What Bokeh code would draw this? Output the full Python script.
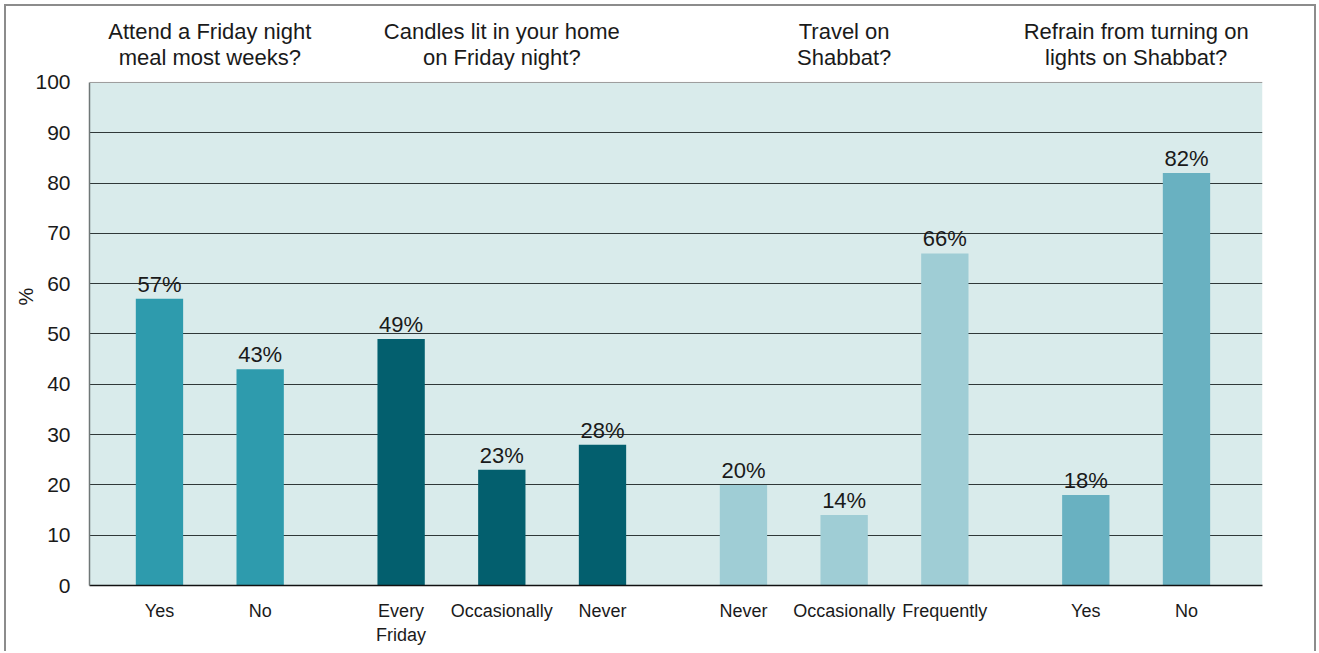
from bokeh.plotting import figure
from bokeh.models import Range1d, FixedTicker, Span, ColumnDataSource, BoxAnnotation
from bokeh.core.properties import value
from bokeh.embed import file_html
from bokeh.resources import INLINE

# ---- data ----
meal_title = ["Attend a Friday night", "meal most weeks?"]
meal_cats = ["Yes", "No"]
meal_vals = [57, 43]

candles_title = ["Candles lit in your home", "on Friday night?"]
candles_cats = ["Every\nFriday", "Occasionally", "Never"]
candles_vals = [49, 23, 28]

travel_title = ["Travel on", "Shabbat?"]
travel_cats = ["Never", "Occasionally", "Frequently"]
travel_vals = [20, 14, 66]

lights_title = ["Refrain from turning on", "lights on Shabbat?"]
lights_cats = ["Yes", "No"]
lights_vals = [18, 82]

y_ticks = [0, 10, 20, 30, 40, 50, 60, 70, 80, 90, 100]

# ---- styles ----
FONT = "Liberation Sans"
TXT = "#1a1a1a"
colors = ["#2e9bad", "#035f6e", "#9fcdd5", "#69b1c1"]
groups = [
    (meal_title, meal_cats, meal_vals),
    (candles_title, candles_cats, candles_vals),
    (travel_title, travel_cats, travel_vals),
    (lights_title, lights_cats, lights_vals),
]

STEP = 100      # spacing between bars inside a group
GAP = 40        # extra gap between groups
BAR_W = 47

xs, tops, cols, labels, overrides, centers = [], [], [], [], {}, []
pos = 0
for gi, (title, cats, vals) in enumerate(groups):
    gx = []
    for c, v in zip(cats, vals):
        xs.append(pos)
        tops.append(v)
        cols.append(colors[gi])
        labels.append(f"{v}%")
        overrides[pos] = c
        gx.append(pos)
        pos += STEP
    centers.append((gx[0] + gx[-1]) / 2)
    pos += GAP

src = ColumnDataSource(dict(x=xs, top=tops, color=cols, label=labels))

t_x, t_y, t_text = [], [], []
for (title, cats, vals), cx in zip(groups, centers):
    for line, yv in zip(title, [110.1, 105.0]):
        t_x.append(cx)
        t_y.append(yv)
        t_text.append(line)
tsrc = ColumnDataSource(dict(x=t_x, y=t_y, text=t_text))

p = figure(width=1312, height=647, output_backend="svg", toolbar_location=None,
           x_range=Range1d(xs[0] - 69.5, xs[-1] + 75.5), y_range=Range1d(0, 114.9),
           min_border_left=83, min_border_right=56, min_border_top=1, min_border_bottom=68)
p.styles = {"margin-left": "4px", "margin-top": "4px",
            "border-left": "2px solid #8c8c8c", "border-top": "2px solid #8c8c8c",
            "border-right": "2px solid #8c8c8c"}

p.background_fill_color = "white"
p.border_fill_color = "white"
p.outline_line_color = None

p.add_layout(BoxAnnotation(bottom=0, top=100, fill_color="#d9ebeb", fill_alpha=1,
                           line_color=None, level="image"))

p.vbar(x="x", top="top", width=BAR_W, bottom=0, color="color", source=src, line_color=None)
p.text(x="x", y="top", text="label", source=src, text_align="center", text_baseline="bottom",
       y_offset=-2, text_font=value(FONT), text_font_size="22px", text_color=TXT)
p.text(x="x", y="y", text="text", source=tsrc, text_align="center", text_baseline="middle",
       text_font=value(FONT), text_font_size="22px", text_color=TXT)

# grid
p.xgrid.visible = False
p.ygrid.ticker = FixedTicker(ticks=y_ticks[1:-1])
p.ygrid.grid_line_color = "#2f3838"
p.ygrid.grid_line_width = 1.2
p.add_layout(Span(location=100, dimension="width", line_color="#9a9a9a", line_width=1))

# y axis
p.yaxis.ticker = FixedTicker(ticks=y_ticks)
p.yaxis.bounds = (0, 100)
p.yaxis.major_tick_out = 0
p.yaxis.major_tick_in = 0
p.yaxis.minor_tick_out = 0
p.yaxis.minor_tick_in = 0
p.yaxis.major_tick_line_color = None
p.yaxis.minor_tick_line_color = None
p.yaxis.axis_line_color = "#6f7777"
p.yaxis.axis_line_width = 1.5
p.yaxis.major_label_standoff = 19
p.yaxis.major_label_text_font = FONT
p.yaxis.major_label_text_font_size = "21px"
p.yaxis.major_label_text_color = TXT
p.yaxis.axis_label = "%"
p.yaxis.axis_label_standoff = -5
p.yaxis.axis_label_text_font = FONT
p.yaxis.axis_label_text_font_style = "normal"
p.yaxis.axis_label_text_font_size = "20px"
p.yaxis.axis_label_text_color = TXT

# x axis
p.xaxis.ticker = FixedTicker(ticks=xs)
p.xaxis.major_label_overrides = overrides
p.xaxis.major_tick_out = 0
p.xaxis.major_tick_in = 0
p.xaxis.minor_tick_out = 0
p.xaxis.minor_tick_in = 0
p.xaxis.major_tick_line_color = None
p.xaxis.minor_tick_line_color = None
p.xaxis.axis_line_color = "#111111"
p.xaxis.axis_line_width = 1.5
p.xaxis.major_label_standoff = 15
p.xaxis.major_label_text_font = FONT
p.xaxis.major_label_text_font_size = "18px"
p.xaxis.major_label_text_color = TXT

open("out.html", "w").write(file_html(p, INLINE))
